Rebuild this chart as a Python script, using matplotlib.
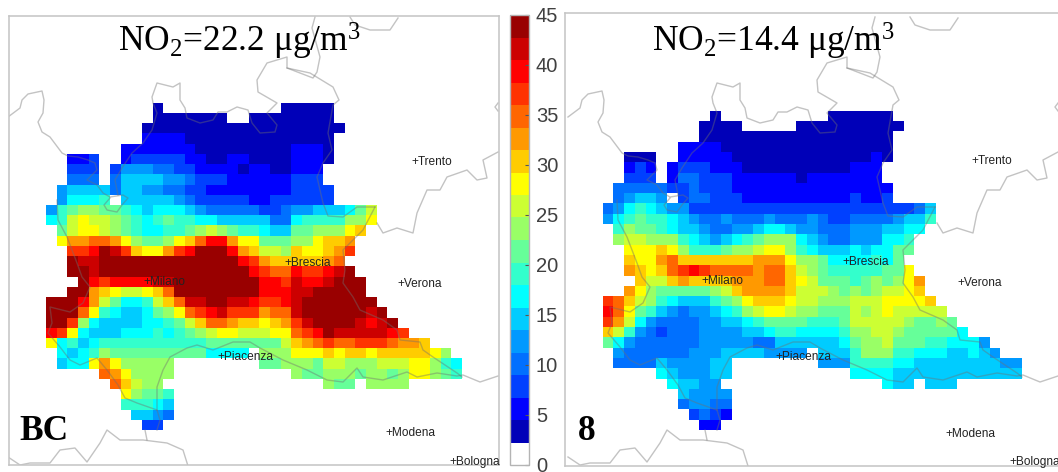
import numpy as np
import matplotlib
matplotlib.use("Agg")
import matplotlib.pyplot as plt
from matplotlib.colors import ListedColormap, BoundaryNorm

W, H = 1058, 472
plt.rcParams['mathtext.fontset'] = 'custom'
plt.rcParams['mathtext.rm'] = 'Liberation Serif'
plt.rcParams['mathtext.it'] = 'Liberation Serif'
plt.rcParams['mathtext.bf'] = 'Liberation Serif:bold'

# colour levels, every class is 2.25 ug/m3 wide: '.' no data, 1..9, a..j = class 1..19
LEVELS = "0123456789abcdefghij"
BC_ROWS = [
 ".......... 1 ........... 11111",
 ".......... 1111111 .. 11111111",
 "......... 1111111111111111111",
 "......... 2222 11111111111111",
 "....... 2222222 111111111 222 1",
 ".. 223 .. 2 33333 22 11 22 1111 222 1",
 ".. 333 . 3 555 44 33 2222 1 22 11 222",
 ".. 444 . 4 6666 55 4 333 222222 333",
 ". 5 6666 4 66 55 44 3 3 22222222 333 3",
 ". 5 777 8 . 66666 5 4 33333 22 33 3333",
 "5 8 9 aa 99 8 7 6 777 6 5 4444 4 33 4 55 666 7 9 b",
 "7 8 b c bb a 9 8 7 8 9 88 77 666 66 44 7 8888 a a c",
 ". 9 b cc b a 9 8 77 88 9 a b a 9 8 8 7 66 99 aaa c d",
 ". c ee ff e c a 99 a c d f hh e c c 999 aa c dd e",
 ".. gg h j i g d cc e g h jjj h e d bb a d cc d e g",
 ".. j ii jjjjjjjjjjjjj h g e dd ddd e f",
 ".. jj i jjjjjjjjjjjjj j h g ff h gg h i j",
 "... j h g hhhh ii jjjjjjj j hh g i hh i jjj",
 ".. jj e d c bb c d f jjjjjjjj hhh ii jjjjj",
 "jjj h e b 9 77 8 b d f ii jj ii h gg h i jjjjjjj",
 "jjj f c 8 7 66 7 9 a c f g h i gg g e ff i jjjjjj i j",
 "jj g a 7 6666 7 7 8 9 b d ff e d d c d e g i jjjj i h i j",
 "h g c 7 666 777 8 7 8 9 a b cc b bb cc f g h j iiiii h g",
 "c 7 8 6 7 8888888888 9999 99 9 b d e f g ff ggg f ee d",
 ". 7 6 7 8 a 999999999 7777 . aaa ccc d c dd c ddddd c a",
 ". 6 77 c e c aaaaa ........ 99 a aa 9 bb aaa bbb cc a 8 7",
 "..... f e c aaaa ........... a 99 aaa 9 aa 9 a cc a 9 8",
 "...... f d b aa ............... a 99 . aaaa",
 "....... c a 99 8",
 "....... 888 7 6",
 "........ 66 5 4",
 "......... 33",
]
S8_ROWS = [
 ".......... 1 .......... 111111",
 "......... 1111 ..... 1111111111",
 "......... 111111111111111111",
 "....... 2222 1111111111111111",
 ".. 111 .. 22222 1111111111111 2 1",
 ".. 2 3 2 . 2 333 222 1111111111 222",
 ".. 3 33 . 2 44 333 222222 1 2222222",
 ". 4 44 4 4 33 4 333 222222222222222",
 ". 4 5 66 5 . 3 44 333 2222222222 3 22 3",
 "4 5 7 8 7 6 5 5 3333 33333333333333333 4 6",
 "5 7 8 9 88 7 6 5 44 5 444 5 444 5 4 33 4444 5 66 8",
 ". 8 a 99 8 7 66 5 44 55 6 77 6 55 444 555 66 77",
 ". a bb aaa 8 7 6 5 6 7 8 9 aaa 7 6 5 44 555 77 8",
 ".. ccc d c a 888 9 aa b cc a 8 7 6 66 7 6 77 99",
 ".. d cc e f ddddddd eee c a a 9 7777 8 7 9",
 ".. e d c d f g h g ffff e ff d b a 9 88888 99 c",
 "... d b b d e dd dd ee e ff d c b 9 99 8 9 a 9 a c e",
 ".. e c a 99999 a b d eeee d b b b a 9 a 9 a bb c d",
 "g f d b a 8 7 666 8 9 a c ddd c b b aaa bbb cccc d",
 "h f c 9 8 6 5 4 55 6 7 8 a b cc b aa 999 b a b c b bbb b",
 "g e b 7 5 4 444 55 66 7 8 999 9 8 88 9 bb bb b a 99 a 9",
 "d b 8 5 4 3 444 5555 6 6 7 88 77 77 8 aa b b a 9999 9 7",
 "9 7 5 444444 55 55 5 44 6666 66 7 9 aa b 999 88 77 7 5",
 ". 5 444444 555 6666 5 555 . 666 8 aaa 88 777 66 7 6 5",
 ". 4444 6 5 555 66 ........ 555 8 88 8 77 66666666 55",
 "..... 7 6 555 66 ........... 7777 666666666666",
 "...... 7 66 55 ............... 7 66 . 666",
 "....... 6 5555",
 "....... 4 55 44",
 "........ 3 4 3 2",
 "......... 22",
]
CITIES = ["Trento", "Brescia", "Milano", "Verona", "Piacenza", "Modena", "Bologna"]
CITY_X_BC = [411, 284, 143, 397, 217, 385, 449]
CITY_Y_BC = [162, 263, 282, 284, 357, 433, 462]
CITY_X_8 = [971, 842, 701, 957, 775, 945, 1009]
CITY_Y_8 = [161, 262, 281, 283, 357, 434, 462]
CLASS_EDGES = np.linspace(0, 45, 21)
CBAR_TICKS = [0, 5, 10, 15, 20, 25, 30, 35, 40, 45]
COLORS = ["#ffffff", "#0000b8", "#0000ff", "#0040ff", "#0070ff", "#0099ff", "#00ccff",
          "#00ffff", "#33ffcc", "#66ff99", "#99ff66", "#ccff33", "#ffff00", "#ffcc00",
          "#ff9900", "#ff6600", "#ff3300", "#ff0000", "#cc0000", "#990000"]
# administrative borders of the map (left panel pixels)
BORDERS = [
 [(8,117),(20,108),(22,100),(28,94),(42,91),(44,100),(43,113),(38,122),(42,132),(50,137),(62,153),(68,156),(78,157),(88,160),(95,163),(97,170),(87,180),(97,185),(103,193),(110,197),(123,195),(128,198),(122,205),(117,212),(107,210),(104,205),(110,198)],
 [(118,195),(115,180),(122,168),(132,153),(143,143),(152,130),(157,113),(153,103),(152,97),(157,83),(173,87),(180,83),(180,100),(185,108),(187,118),(200,123),(213,120),(218,112),(227,112),(237,107),(248,110),(252,123),(260,133),(275,132),(277,125),(267,113),(277,103),(258,92),(257,80),(267,63),(287,57),(287,68),(310,73),(333,87),(339,100),(333,105),(328,133),(332,150),(323,163),(317,177),(323,203),(328,216),(343,217),(357,207),(375,207)],
 [(375,207),(363,230),(343,250),(345,270),(343,283),(353,297),(360,310),(383,320),(397,330),(400,340),(420,342),(423,350),(433,357),(457,373),(462,377)],
 [(57,200),(58,220),(67,237),(72,250),(77,263),(82,277),(90,287),(83,303),(70,312),(50,307),(52,323),(48,333),(60,347),(70,360),(80,365),(97,358),(107,370),(118,385),(125,398),(137,403),(157,410),(160,420),(157,430)],
 [(157,410),(157,387),(163,370),(170,357),(187,348),(197,345),(213,350),(233,342),(250,342),(260,348),(283,360),(307,370),(327,380),(343,382),(357,368),(363,377),(383,380),(407,372),(417,377),(437,373),(457,376),(463,375),(480,382),(498,376)],
 [(8,457),(20,465),(30,463),(50,463),(60,450),(75,448),(87,462),(100,443),(107,430),(120,440),(143,440),(167,443),(183,450),(188,466)],
 [(145,430),(147,440)],
 [(377,223),(383,233),(397,228),(413,233),(417,213),(427,190),(440,190),(447,177),(467,170),(477,180),(487,178),(483,160),(498,152)],
 [(315,17),(312,28),(320,57),(317,72),(313,78),(287,68)],
 [(350,17),(355,25),(370,30),(390,30),(398,18)],
 [(498,103),(495,107),(498,111)],
]
BORDER_SHIFT_8 = 560

TITLE_BC = "NO$_2$=22.2 μg/m$^3$"
TITLE_8 = "NO$_2$=14.4 μg/m$^3$"


def decode(rows):
    grid = np.full((len(rows), 39), np.nan)
    for r, row in enumerate(rows):
        row = row.replace(" ", "")
        for c, ch in enumerate(row[:39]):
            if ch != ".":
                grid[r, c] = (LEVELS.index(ch) + 0.5) * 2.25
    return grid


fig = plt.figure(figsize=(W / 100, H / 100), dpi=100)
cmap = ListedColormap(COLORS)
norm = BoundaryNorm(CLASS_EDGES, cmap.N)


def rect(x0, y0, x1, y1):
    return [x0 / W, 1 - y1 / H, (x1 - x0) / W, (y1 - y0) / H]


def panel(box, grid, x0, dx, y0, dy, title, tx, cx, cy, tag, tagx, shift):
    ax = fig.add_axes(rect(*box))
    ax.set_xlim(box[0], box[2])
    ax.set_ylim(box[3], box[1])
    ax.set_xticks([])
    ax.set_yticks([])
    for s in ax.spines.values():
        s.set_color("#c4c4c4")
        s.set_linewidth(1.1)
    xe = x0 + dx * np.arange(grid.shape[1] + 1)
    ye = y0 + dy * np.arange(grid.shape[0] + 1)
    m = ax.pcolormesh(xe, ye, np.ma.masked_invalid(grid), cmap=cmap, norm=norm,
                      edgecolors="none", antialiased=False, zorder=1)
    for b in BORDERS:
        a = np.array(b, float)
        ax.plot(a[:, 0] + shift, a[:, 1], color="#707070", alpha=0.42, lw=1.0, zorder=2,
                solid_joinstyle="round")
    for name, x, y in zip(CITIES, cx, cy):
        ax.text(x, y, "+" + name, fontsize=8.6, family="Liberation Sans", color="#222222",
                ha="left", va="center", clip_on=False, zorder=3)
    ax.text(tx, 52, title, fontsize=25.5, family="Liberation Serif", color="black",
            ha="left", va="baseline", clip_on=False, zorder=4)
    ax.text(tagx, 440, tag, fontsize=25.5, family="Liberation Serif", weight="bold",
            color="black", ha="left", va="baseline", zorder=4)
    return m


m = panel((9, 15.7, 499, 465), decode(BC_ROWS), 46, 10.67, 102.7, 10.23,
          TITLE_BC, 118, CITY_X_BC, CITY_Y_BC, "BC", 19, 0)
panel((565, 12.5, 1062, 466), decode(S8_ROWS), 602.7, 10.75, 110.7, 10.3,
      TITLE_8, 652, CITY_X_8, CITY_Y_8, "8", 578, BORDER_SHIFT_8)

cax = fig.add_axes(rect(510, 15, 529, 465))
cb = fig.colorbar(m, cax=cax, boundaries=CLASS_EDGES, ticks=CBAR_TICKS, spacing="proportional")
cb.outline.set_edgecolor("#b4b4b4")
cb.outline.set_linewidth(1.0)
cb.ax.tick_params(length=3, width=0.8, direction="in", color="#555555", pad=5,
                  labelsize=14.5, labelcolor="#404040")
for t in cb.ax.get_yticklabels():
    t.set_family("Liberation Sans")
cb.ax.minorticks_off()

fig.savefig("out.png", dpi=100)
